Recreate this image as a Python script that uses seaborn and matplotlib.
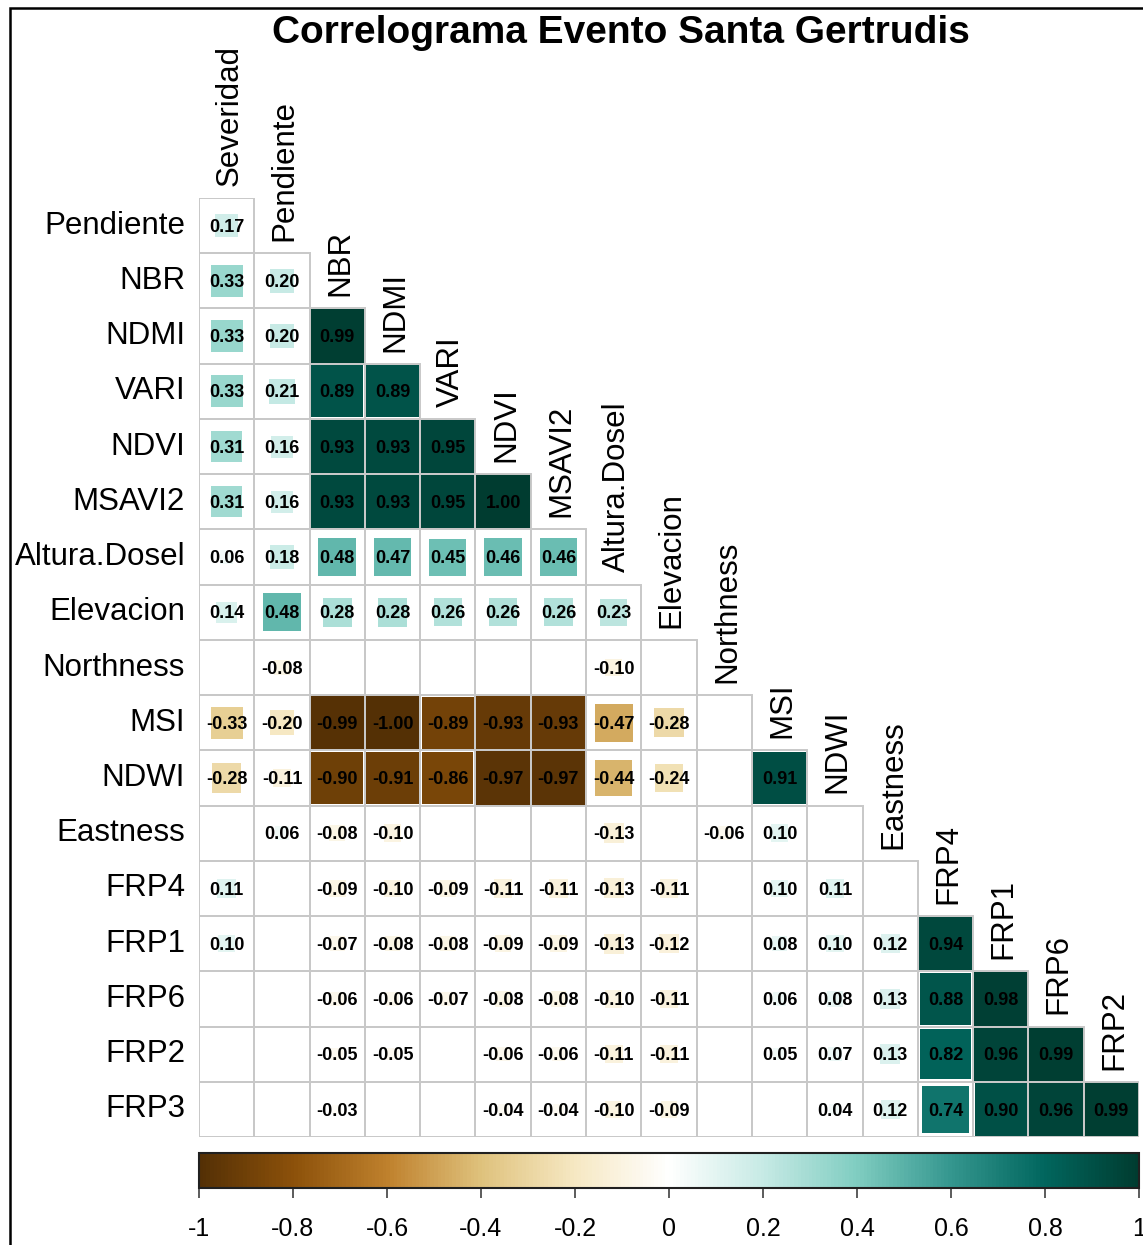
import numpy as np
import pandas as pd
import matplotlib
matplotlib.use("Agg")
import matplotlib.pyplot as plt
import seaborn as sns
from matplotlib.colors import LinearSegmentedColormap, ListedColormap, Normalize
from matplotlib.patches import Rectangle
from matplotlib.cm import ScalarMappable

variables = ["Severidad", "Pendiente", "NBR", "NDMI", "VARI", "NDVI", "MSAVI2",
             "Altura.Dosel", "Elevacion", "Northness", "MSI", "NDWI", "Eastness",
             "FRP4", "FRP1", "FRP6", "FRP2", "FRP3"]

# lower triangle, one list per row; None = not significant (left blank)
r_pendiente = [0.17]
r_nbr = [0.33, 0.20]
r_ndmi = [0.33, 0.20, 0.99]
r_vari = [0.33, 0.21, 0.89, 0.89]
r_ndvi = [0.31, 0.16, 0.93, 0.93, 0.95]
r_msavi2 = [0.31, 0.16, 0.93, 0.93, 0.95, 1.00]
r_altura = [0.06, 0.18, 0.48, 0.47, 0.45, 0.46, 0.46]
r_elevacion = [0.14, 0.48, 0.28, 0.28, 0.26, 0.26, 0.26, 0.23]
r_northness = [None, -0.08, None, None, None, None, None, -0.10, None]
r_msi = [-0.33, -0.20, -0.99, -1.00, -0.89, -0.93, -0.93, -0.47, -0.28, None]
r_ndwi = [-0.28, -0.11, -0.90, -0.91, -0.86, -0.97, -0.97, -0.44, -0.24, None, 0.91]
r_eastness = [None, 0.06, -0.08, -0.10, None, None, None, -0.13, None, -0.06, 0.10, None]
r_frp4 = [0.11, None, -0.09, -0.10, -0.09, -0.11, -0.11, -0.13, -0.11, None, 0.10, 0.11, None]
r_frp1 = [0.10, None, -0.07, -0.08, -0.08, -0.09, -0.09, -0.13, -0.12, None, 0.08, 0.10, 0.12, 0.94]
r_frp6 = [None, None, -0.06, -0.06, -0.07, -0.08, -0.08, -0.10, -0.11, None, 0.06, 0.08, 0.13, 0.88, 0.98]
r_frp2 = [None, None, -0.05, -0.05, None, -0.06, -0.06, -0.11, -0.11, None, 0.05, 0.07, 0.13, 0.82, 0.96, 0.99]
r_frp3 = [None, None, -0.03, None, None, -0.04, -0.04, -0.10, -0.09, None, None, 0.04, 0.12, 0.74, 0.90, 0.96, 0.99]

rows = [r_pendiente, r_nbr, r_ndmi, r_vari, r_ndvi, r_msavi2, r_altura, r_elevacion,
        r_northness, r_msi, r_ndwi, r_eastness, r_frp4, r_frp1, r_frp6, r_frp2, r_frp3]

n = len(rows)
mat = np.full((n, n), np.nan)
for i, row in enumerate(rows):
    for j, v in enumerate(row):
        if v is not None:
            mat[i, j] = v
corr = pd.DataFrame(mat, index=variables[1:], columns=variables[:-1])
mask = np.triu(np.ones((n, n), dtype=bool), k=1)

brbg = LinearSegmentedColormap.from_list(
    "brbg", ["#543005", "#8C510A", "#BF812D", "#DFC27D", "#F6E8C3", "#FFFFFF",
             "#C7EAE5", "#80CDC1", "#35978F", "#01665E", "#003C30"])
norm = Normalize(-1, 1)

W, H = 1143, 1245
fig = plt.figure(figsize=(W / 100, H / 100), dpi=100)
plt.rcParams["font.family"] = ["Liberation Sans", "DejaVu Sans"]

ax = fig.add_axes([199 / W, 1 - 1137 / H, 940 / W, 939 / H])
sns.heatmap(corr.fillna(0), mask=mask, cmap=ListedColormap([(1, 1, 1, 0)]), cbar=False,
            linewidths=0, xticklabels=False, yticklabels=False, ax=ax)
ax.set_xlim(0, n)
ax.set_ylim(n, 0)
ax.axis("off")

for i in range(n):
    for j in range(i + 1):
        # cell outline (drawn over the squares, like corrplot)
        ax.add_patch(Rectangle((j, i), 1, 1, facecolor="none", edgecolor="#c8c8c8",
                               linewidth=1.4, zorder=3))
        v = corr.iat[i, j]
        if np.isnan(v):
            continue
        s = np.sqrt(abs(v))
        ax.add_patch(Rectangle((j + 0.5 - s / 2, i + 0.5 - s / 2), s, s,
                               facecolor=brbg(norm(v)), edgecolor="none", zorder=2))
        ax.text(j + 0.5, i + 0.53, f"{v:.2f}", ha="center", va="center",
                fontsize=13, fontweight="bold", color="black", zorder=4)

for i, name in enumerate(corr.index):
    ax.text(-0.25, i + 0.5, name, ha="right", va="center", fontsize=22.5, color="black")
for j, name in enumerate(corr.columns):
    ax.text(j + 0.55, j - 0.22, name, ha="center", va="bottom", rotation=90,
            fontsize=22.5, color="black")

cax = fig.add_axes([199 / W, 1 - 1188 / H, 940 / W, 35 / H])
cb = fig.colorbar(ScalarMappable(norm=norm, cmap=brbg), cax=cax, orientation="horizontal")
ticks = np.round(np.arange(-1, 1.01, 0.2), 1)
cb.set_ticks(ticks)
cb.set_ticklabels([f"{t:g}" if t != 0 else "0" for t in ticks])
cax.tick_params(axis="x", length=7, width=1.2, color="#404040", labelsize=18, pad=14)
cb.outline.set_edgecolor("#202020")
cb.outline.set_linewidth(1.5)

fig.text(621 / W, 1 - 33 / H, "Correlograma Evento Santa Gertrudis", ha="center",
         va="center", fontsize=28, fontweight="bold")

fig.add_artist(Rectangle((10 / W, -0.05), 1.2, 1 - 8 / H + 0.05, transform=fig.transFigure,
                         fill=False, edgecolor="black", linewidth=1.8))

fig.savefig("out.png", dpi=100, facecolor="white")
